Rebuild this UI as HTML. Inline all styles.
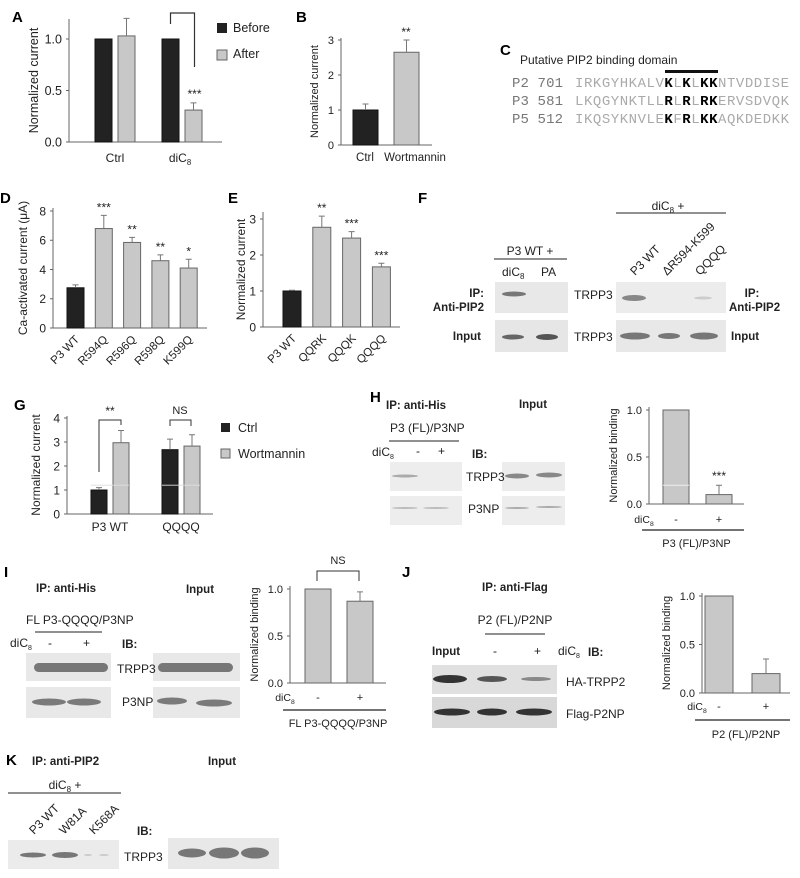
<!DOCTYPE html>
<html><head><meta charset="utf-8"><style>
html,body{margin:0;padding:0;background:#fff}
svg{display:block;font-family:"Liberation Sans",Arial,sans-serif}
.pl{font-weight:bold;font-size:15px}
.t{font-size:12px;fill:#222}
.b{font-size:11.5px;font-weight:bold;fill:#222}
</style></head><body>
<svg id="fig" width="800" height="878" viewBox="0 0 800 878" xmlns="http://www.w3.org/2000/svg">
<g id="static">
<text class="pl" x="12" y="22">A</text>
<text class="pl" x="296" y="22">B</text>
<text class="pl" x="500" y="55">C</text>
<text class="pl" x="0" y="203">D</text>
<text class="pl" x="228" y="203">E</text>
<text class="pl" x="418" y="203">F</text>
<text class="pl" x="14" y="410">G</text>
<text class="pl" x="370" y="402">H</text>
<text class="pl" x="4" y="577">I</text>
<text class="pl" x="402" y="577">J</text>
<text class="pl" x="6" y="765">K</text>

<!-- C -->
<text class="t" x="520" y="64" font-size="13">Putative PIP2 binding domain</text>
<rect x="665" y="70" width="53" height="3" fill="#111"/>
<g font-family="'Liberation Mono',monospace" font-size="14">
<text x="512" y="87" fill="#777" textLength="51">P2 701</text>
<text x="512" y="105" fill="#777" textLength="51">P3 581</text>
<text x="512" y="123" fill="#777" textLength="51">P5 512</text>
<text x="575" y="87" fill="#aaa" textLength="214" lengthAdjust="spacing">IRKGYHKALV<tspan fill="#000" font-weight="bold">K</tspan>L<tspan fill="#000" font-weight="bold">K</tspan>L<tspan fill="#000" font-weight="bold">KK</tspan>NTVDDISE</text>
<text x="575" y="105" fill="#aaa" textLength="214" lengthAdjust="spacing">LKQGYNKTLL<tspan fill="#000" font-weight="bold">R</tspan>L<tspan fill="#000" font-weight="bold">R</tspan>L<tspan fill="#000" font-weight="bold">RK</tspan>ERVSDVQK</text>
<text x="575" y="123" fill="#aaa" textLength="214" lengthAdjust="spacing">IKQSYKNVLE<tspan fill="#000" font-weight="bold">K</tspan>F<tspan fill="#000" font-weight="bold">R</tspan>L<tspan fill="#000" font-weight="bold">KK</tspan>AQKDEDKK</text>
</g>

<!-- F -->
<g>
<text class="t" x="530" y="255" text-anchor="middle" font-size="12.5">P3 WT +</text>
<line x1="494" y1="259" x2="567" y2="259" stroke="#222"/>
<text class="t" x="502" y="276">diC<tspan font-size="8" dy="3">8</tspan></text>
<text class="t" x="541" y="276">PA</text>
<text class="b" x="484" y="297" text-anchor="end">IP:</text>
<text class="b" x="484" y="311" text-anchor="end">Anti-PIP2</text>
<text class="b" x="481" y="340" text-anchor="end">Input</text>
<rect x="495" y="282" width="73" height="31" fill="#e8e8e8"/>
<rect x="495" y="320" width="73" height="32" fill="#e6e6e6"/>
<ellipse cx="514" cy="294" rx="12" ry="2.5" fill="#777"/>
<ellipse cx="513" cy="337" rx="11" ry="2.5" fill="#666"/>
<ellipse cx="547" cy="337" rx="11" ry="3" fill="#555"/>
<text class="t" x="574" y="299">TRPP3</text>
<text class="t" x="574" y="341">TRPP3</text>
<text class="t" x="668" y="210" text-anchor="middle">diC<tspan font-size="8" dy="3">8</tspan><tspan dy="-3"> +</tspan></text>
<line x1="616" y1="213" x2="726" y2="213" stroke="#222"/>
<text class="t" transform="translate(635,276) rotate(-45)">P3 WT</text>
<text class="t" transform="translate(667,276) rotate(-45)">ΔR594-K599</text>
<text class="t" transform="translate(700,276) rotate(-45)">QQQQ</text>
<rect x="616" y="282" width="110" height="31" fill="#ececec"/>
<rect x="616" y="320" width="110" height="32" fill="#e8e8e8"/>
<ellipse cx="634" cy="298" rx="12" ry="3" fill="#888"/>
<ellipse cx="703" cy="298" rx="9" ry="1.5" fill="#ccc"/>
<ellipse cx="635" cy="336" rx="15" ry="3.5" fill="#777"/>
<ellipse cx="669" cy="336" rx="11" ry="3" fill="#777"/>
<ellipse cx="704" cy="336" rx="14" ry="3.5" fill="#777"/>
<text class="b" x="752" y="297" text-anchor="middle">IP:</text>
<text class="b" x="729" y="311">Anti-PIP2</text>
<text class="b" x="731" y="340">Input</text>
</g>

<!-- H blots -->
<g>
<text class="b" x="386" y="409">IP: anti-His</text>
<text class="b" x="533" y="408" text-anchor="middle">Input</text>
<text class="t" x="390" y="432" font-size="11">P3 (FL)/P3NP</text>
<line x1="389" y1="441" x2="459" y2="441" stroke="#222"/>
<text class="t" x="372" y="456" font-size="11">diC<tspan font-size="7" dy="3">8</tspan></text>
<text class="t" x="416" y="455">-</text>
<text class="t" x="438" y="455">+</text>
<text class="b" x="472" y="458">IB:</text>
<rect x="390" y="462" width="72" height="29" fill="#ededed"/>
<rect x="390" y="496" width="72" height="29" fill="#ededed"/>
<rect x="502" y="462" width="63" height="29" fill="#ececec"/>
<rect x="502" y="496" width="63" height="29" fill="#ededed"/>
<ellipse cx="405" cy="476" rx="13" ry="1.5" fill="#aaa"/>
<ellipse cx="405" cy="508" rx="13" ry="1" fill="#bbb"/>
<ellipse cx="436" cy="508" rx="13" ry="1" fill="#bbb"/>
<ellipse cx="517" cy="476" rx="12" ry="2.5" fill="#888"/>
<ellipse cx="549" cy="475" rx="13" ry="2.5" fill="#888"/>
<ellipse cx="517" cy="508" rx="12" ry="1" fill="#aaa"/>
<ellipse cx="549" cy="507" rx="13" ry="1" fill="#aaa"/>
<text class="t" x="466" y="481" font-size="11">TRPP3</text>
<text class="t" x="468" y="513" font-size="11">P3NP</text>
</g>

<!-- I blots -->
<g>
<text class="b" x="36" y="592">IP: anti-His</text>
<text class="b" x="200" y="593" text-anchor="middle">Input</text>
<text class="t" x="26" y="624" font-size="11">FL P3-QQQQ/P3NP</text>
<line x1="35" y1="632" x2="102" y2="632" stroke="#222"/>
<text class="t" x="10" y="647" font-size="11">diC<tspan font-size="7" dy="3">8</tspan></text>
<text class="t" x="48" y="647">-</text>
<text class="t" x="83" y="647">+</text>
<text class="b" x="122" y="648">IB:</text>
<rect x="26" y="653" width="85" height="28" fill="#e8e8e8"/>
<rect x="26" y="687" width="85" height="31" fill="#e8e8e8"/>
<rect x="153" y="653" width="87" height="28" fill="#e8e8e8"/>
<rect x="153" y="687" width="87" height="31" fill="#e8e8e8"/>
<rect x="34" y="663" width="74" height="9" rx="4.5" fill="#777"/>
<ellipse cx="49" cy="702" rx="17" ry="3.5" fill="#7a7a7a"/>
<ellipse cx="84" cy="702" rx="17" ry="3.5" fill="#7a7a7a"/>
<rect x="158" y="663" width="75" height="9" rx="4.5" fill="#777"/>
<ellipse cx="172" cy="701" rx="15" ry="3.5" fill="#7a7a7a"/>
<ellipse cx="214" cy="703" rx="18" ry="3.5" fill="#7a7a7a"/>
<text class="t" x="117" y="673" font-size="11">TRPP3</text>
<text class="t" x="122" y="706" font-size="11">P3NP</text>
</g>

<!-- J blots -->
<g>
<text class="b" x="482" y="591">IP: anti-Flag</text>
<text class="t" x="515" y="624" text-anchor="middle" font-size="11">P2 (FL)/P2NP</text>
<line x1="485" y1="634" x2="545" y2="634" stroke="#222"/>
<text class="b" x="432" y="655">Input</text>
<text class="t" x="493" y="655">-</text>
<text class="t" x="534" y="655">+</text>
<text class="t" x="558" y="655" font-size="11">diC<tspan font-size="7" dy="3">8</tspan></text>
<text class="b" x="588" y="656">IB:</text>
<rect x="432" y="665" width="125" height="29" fill="#e0e0e0"/>
<rect x="432" y="697" width="125" height="31" fill="#d8d8d8"/>
<ellipse cx="450" cy="679" rx="17" ry="4" fill="#333"/>
<ellipse cx="492" cy="679" rx="15" ry="3" fill="#555"/>
<ellipse cx="536" cy="679" rx="15" ry="2" fill="#888"/>
<ellipse cx="452" cy="712" rx="18" ry="3.5" fill="#333"/>
<ellipse cx="492" cy="712" rx="15" ry="3.5" fill="#333"/>
<ellipse cx="534" cy="712" rx="18" ry="3.5" fill="#333"/>
<text class="t" x="566" y="686" font-size="11.5">HA-TRPP2</text>
<text class="t" x="566" y="718" font-size="11.5">Flag-P2NP</text>
</g>

<!-- K -->
<g>
<text class="b" x="32" y="765">IP: anti-PIP2</text>
<text class="b" x="222" y="765" text-anchor="middle">Input</text>
<text class="t" x="65" y="789" text-anchor="middle">diC<tspan font-size="8" dy="3">8</tspan><tspan dy="-3"> +</tspan></text>
<line x1="8" y1="793" x2="121" y2="793" stroke="#222"/>
<text class="t" transform="translate(34,835) rotate(-45)">P3 WT</text>
<text class="t" transform="translate(64,835) rotate(-45)">W81A</text>
<text class="t" transform="translate(94,835) rotate(-45)">K568A</text>
<text class="b" x="137" y="835">IB:</text>
<rect x="8" y="840" width="111" height="29" fill="#ebebeb"/>
<rect x="168" y="838" width="111" height="31" fill="#e8e8e8"/>
<ellipse cx="33" cy="855" rx="13" ry="2.5" fill="#777"/>
<ellipse cx="65" cy="855" rx="13" ry="3" fill="#777"/>
<ellipse cx="88" cy="855" rx="4" ry="1" fill="#ccc"/>
<ellipse cx="104" cy="855" rx="5" ry="1" fill="#ccc"/>
<ellipse cx="192" cy="853" rx="14" ry="4.5" fill="#777"/>
<ellipse cx="224" cy="853" rx="15" ry="5.5" fill="#777"/>
<ellipse cx="255" cy="853" rx="14" ry="5.5" fill="#777"/>
<text class="t" x="124" y="861" font-size="12.5">TRPP3</text>
</g>
</g>
<g id="charts"></g>
</svg>
<script>
// Panel A
const aCategories = ["Ctrl", "diC8"];
const aBefore = [1.0, 1.0];
const aAfter = [1.03, 0.31];
const aAfterErr = [0.17, 0.07];
const aTicks = ["0.0", "0.5", "1.0"];
const aTickVals = [0, 0.5, 1.0];
// Panel B
const bCategories = ["Ctrl", "Wortmannin"];
const bValues = [1.0, 2.65];
const bErr = [0.17, 0.35];
const bTicks = [0, 1, 2, 3];
// Panel D
const dCategories = ["P3 WT", "R594Q", "R596Q", "R598Q", "K599Q"];
const dValues = [2.75, 6.8, 5.85, 4.6, 4.1];
const dErr = [0.2, 0.9, 0.35, 0.4, 0.6];
const dStars = ["", "***", "**", "**", "*"];
const dTicks = [0, 2, 4, 6, 8];
// Panel E
const eCategories = ["P3 WT", "QQRK", "QQQK", "QQQQ"];
const eValues = [1.0, 2.77, 2.47, 1.67];
const eErr = [0.02, 0.31, 0.18, 0.1];
const eStars = ["", "**", "***", "***"];
const eTicks = [0, 1, 2, 3];
// Panel G
const gCategories = ["P3 WT", "QQQQ"];
const gCtrl = [1.0, 2.68];
const gCtrlErr = [0.1, 0.44];
const gWort = [2.97, 2.83];
const gWortErr = [0.51, 0.47];
const gTicks = [0, 1, 2, 3, 4];
// Panels H, I, J
const hValues = [1.0, 0.1];
const hErr = [0, 0.1];
const iValues = [1.0, 0.87];
const iErr = [0, 0.1];
const jValues = [1.0, 0.2];
const jErr = [0, 0.15];
const bindTicks = ["0.0", "0.5", "1.0"];
const bindTickVals = [0, 0.5, 1.0];

const NS = "http://www.w3.org/2000/svg";
const root = document.getElementById("charts");
function mk(tag, attrs, parent, text) {
  const e = document.createElementNS(NS, tag);
  for (const k in attrs) e.setAttribute(k, attrs[k]);
  if (text !== undefined) e.textContent = text;
  (parent || root).appendChild(e);
  return e;
}
function scale(v0, px0, v1, px1) { return v => px0 + (v - v0) * (px1 - px0) / (v1 - v0); }

function axes(x0, x1, y, yTop, ys, tickVals, tickLabels, fs, label, labelX) {
  let e = mk("line", {x1: x0, y1: yTop, x2: x0, y2: y, stroke: "#666"});
  
  
  e = mk("line", {x1: x0, y1: y, x2: x1, y2: y, stroke: "#666"});
  
  
  tickVals.forEach((v, i) => {
    let t = mk("line", {x1: x0 - 3, y1: ys(v), x2: x0, y2: ys(v), stroke: "#666"});
    
    
    t = mk("text", {x: x0 - 7, y: ys(v) + fs * 0.36, "text-anchor": "end", "font-size": fs, fill: "#222"}, root, tickLabels[i]);
    
    
  });
  const cy = (y + yTop) / 2;
  const l = mk("text", {x: 0, y: 0, transform: `translate(${labelX},${cy}) rotate(-90)`, "text-anchor": "middle", "font-size": fs, fill: "#222"}, root, label);
  
  
}
function bar(x, w, base, top, fill, err, ys, v) {
  const r = mk("rect", {x: x, y: top, width: w, height: base - top, fill: fill, stroke: fill === "#222" ? "#111" : "#666", "stroke-width": 1});
  
  
  if (err > 0) {
    const cx = x + w / 2, ye = ys(v + err);
    const e = mk("path", {d: `M${cx},${top}V${ye}M${cx - 3},${ye}H${cx + 3}`, stroke: "#777", fill: "none"});
    
    
  }
  return r;
}
function txt(x, y, s, fs, anchor, name) {
  const t = mk("text", {x: x, y: y, "font-size": fs, "text-anchor": anchor || "middle", fill: "#222"}, root, s);
  
  
  return t;
}
function subLabel(x, y, fs, name) {
  const t = mk("text", {x: x, y: y, "font-size": fs, "text-anchor": "middle", fill: "#222"}, root);
  t.innerHTML = 'diC<tspan font-size="' + (fs * 0.65) + '" dy="3">8</tspan>';
  
  
}

// A
(function () {
  const ys = scale(0, 142, 1, 39);
  axes(69, 222, 142, 19, ys, aTickVals, aTicks, 12.5, "Normalized current", 38);
  const groupX = [95, 162];
  aCategories.forEach((c, i) => {
    bar(groupX[i], 17, 142, ys(aBefore[i]), "#222", 0, ys, aBefore[i]);
    bar(groupX[i] + 23, 17, 142, ys(aAfter[i]), "#c8c8c8", aAfterErr[i], ys, aAfter[i]);
  });
  txt(115, 162, "Ctrl", 12, "middle", "x-label-ctrl");
  subLabel(180, 162, 12, "x-label-dic8");
  const bx = 194.5, top = ys(aAfter[1] + aAfterErr[1]);
  const br = mk("path", {d: `M170.5,24V13H${bx}V67`, stroke: "#333", fill: "none", "stroke-width": 1.2});
  
  
  txt(bx, top - 5, "***", 12, "middle", "significance-stars");
  let s = mk("rect", {x: 217, y: 23, width: 10, height: 10, fill: "#222"});
  
  
  txt(233, 32, "Before", 12.5, "start", "legend-before");
  s = mk("rect", {x: 217, y: 50, width: 10, height: 10, fill: "#c8c8c8", stroke: "#666"});
  
  
  txt(233, 58, "After", 12.5, "start", "legend-after");
})();

// B
(function () {
  const ys = scale(0, 145, 3, 40);
  axes(341, 432, 145, 38, ys, bTicks, bTicks.map(String), 11, "Normalized current", 318);
  const xs = [353, 394];
  bCategories.forEach((c, i) => {
    bar(xs[i], 25, 145, ys(bValues[i]), i ? "#c8c8c8" : "#222", bErr[i], ys, bValues[i]);
  });
  txt(365, 161, "Ctrl", 11.5, "middle", "x-label-ctrl");
  txt(415, 161, "Wortmannin", 11.5, "middle", "x-label-wortmannin");
  txt(406, ys(bValues[1] + bErr[1]) - 4, "**", 12, "middle", "significance-stars");
})();

// D
(function () {
  const ys = scale(0, 328, 8, 211);
  axes(53, 207, 328, 208, ys, dTicks, dTicks.map(String), 12, "Ca-activated current (μA)", 27);
  dCategories.forEach((c, i) => {
    const x = 67 + i * 28.3;
    bar(x, 17, 328, ys(dValues[i]), i ? "#c8c8c8" : "#222", dErr[i], ys, dValues[i]);
    if (dStars[i]) txt(x + 8.5, ys(dValues[i] + dErr[i]) - 4, dStars[i], 12, "middle", "significance-stars");
    const l = mk("text", {x: 0, y: 0, transform: `translate(${x + 13},${340}) rotate(-45)`, "text-anchor": "end", "font-size": 11.5, fill: "#222"}, root, c);
    
    
  });
})();

// E
(function () {
  const ys = scale(0, 327, 3, 219);
  axes(263, 400, 327, 212, ys, eTicks, eTicks.map(String), 12, "Normalized current", 245);
  eCategories.forEach((c, i) => {
    const x = 283 + i * 29.8;
    bar(x, 18, 327, ys(eValues[i]), i ? "#c8c8c8" : "#222", eErr[i], ys, eValues[i]);
    if (eStars[i]) txt(x + 9, ys(eValues[i] + eErr[i]) - 4, eStars[i], 12, "middle", "significance-stars");
    const l = mk("text", {x: 0, y: 0, transform: `translate(${x + 14},${339}) rotate(-45)`, "text-anchor": "end", "font-size": 11.5, fill: "#222"}, root, c);
    
    
  });
})();

// G
(function () {
  const ys = scale(0, 514, 4, 418);
  axes(67, 213, 514, 416, ys, gTicks, gTicks.map(String), 12, "Normalized current", 40);
  const gx = [91, 162];
  gCategories.forEach((c, i) => {
    bar(gx[i], 16, 514, ys(gCtrl[i]), "#222", gCtrlErr[i], ys, gCtrl[i]);
    bar(gx[i] + 22, 16, 514, ys(gWort[i]), "#c8c8c8", gWortErr[i], ys, gWort[i]);
    const w = mk("line", {x1: gx[i], y1: ys(1.2), x2: gx[i] + 38, y2: ys(1.2), stroke: "#ddd", "stroke-width": 0.8});
    
    
    txt(gx[i] + 19, 531, c, 12, "middle", "x-tick-label");
  });
  let b = mk("path", {d: "M99,472V420H121V425", stroke: "#333", fill: "none"});
  
  
  txt(110, 415, "**", 12, "middle", "significance-stars");
  b = mk("path", {d: "M170,426V420H191V426", stroke: "#333", fill: "none"});
  
  
  txt(180, 414, "NS", 11, "middle", "ns-label");
  let s = mk("rect", {x: 221, y: 423, width: 9, height: 9, fill: "#222"});
  
  
  txt(238, 432, "Ctrl", 12.5, "start", "legend-ctrl");
  s = mk("rect", {x: 221, y: 449, width: 9, height: 9, fill: "#c8c8c8", stroke: "#666"});
  
  
  txt(238, 458, "Wortmannin", 12.5, "start", "legend-wortmannin");
})();

function bindingChart(ax, x1, base, y1v, vals, errs, barX, bw, labY, lineY, constrY, constr, stars) {
  const ys = scale(0, base, 1, y1v);
  axes(ax, x1, base, y1v - 3, ys, bindTickVals, bindTicks, 11, "Normalized binding", ax - 32);
  vals.forEach((v, i) => {
    bar(barX[i], bw, base, ys(v), "#c8c8c8", errs[i], ys, v);
  });
  subLabel(ax - 5, labY, 10.5, "dic8-label");
  txt(barX[0] + bw / 2, labY, "-", 11, "middle", "minus-label");
  txt(barX[1] + bw / 2, labY, "+", 11, "middle", "plus-label");
  const l = mk("line", {x1: ax - 7, y1: lineY, x2: x1, y2: lineY, stroke: "#222", "stroke-width": 1.3});
  
  
  txt((ax + x1) / 2, constrY, constr, 11, "middle", "construct-label");
  if (stars) txt(barX[1] + bw / 2, ys(vals[1] + errs[1]) - 5, stars, 12, "middle", "significance-stars");
  return ys;
}
// H
(function () {
  const ys = bindingChart(649, 744, 504, 410, hValues, hErr, [663, 706], 26, 523, 530, 547, "P3 (FL)/P3NP", "***");
  const w = mk("line", {x1: 663, y1: ys(0.2), x2: 689, y2: ys(0.2), stroke: "#eee"});
  
  
})();
// I
(function () {
  bindingChart(290, 386, 683, 589, iValues, iErr, [305, 347], 26, 701, 710, 727, "FL P3-QQQQ/P3NP", "");
  const b = mk("path", {d: "M317,581V571H359V581", stroke: "#333", fill: "none"});
  
  
  txt(338, 564, "NS", 11, "middle", "ns-label");
})();
// J
bindingChart(702, 790, 693, 596, jValues, jErr, [705, 752], 28, 710, 720, 738, "P2 (FL)/P2NP", "");
</script>
</body></html>
